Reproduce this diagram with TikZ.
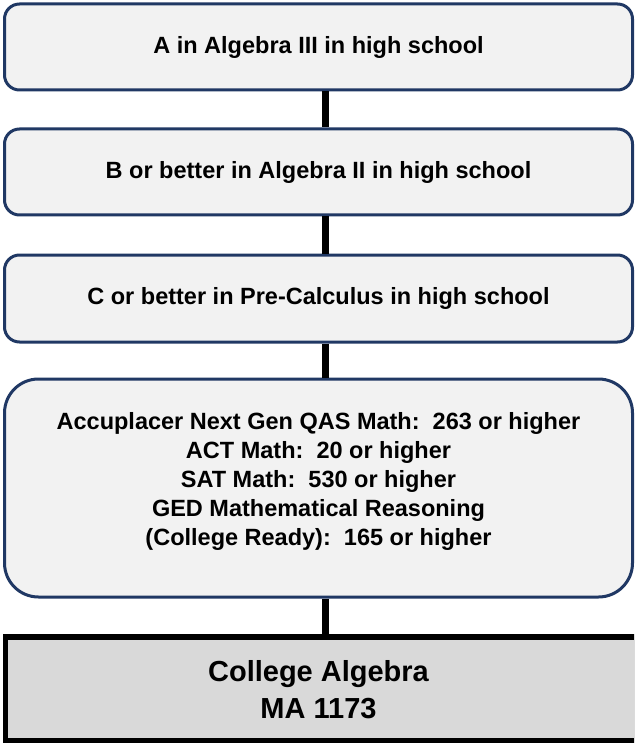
\documentclass[tikz,border=0pt]{standalone}
\usepackage{fontspec}
\setmainfont{Liberation Sans}
\definecolor{navy}{HTML}{203864}
\definecolor{boxfill}{HTML}{F2F2F2}
\definecolor{grayfill}{HTML}{D9D9D9}
\begin{document}
\begin{tikzpicture}[x=1pt,y=-1pt,
  rbox/.style={draw=navy, fill=boxfill, line width=3pt, rounded corners=15pt,
    minimum width=628pt, align=center, inner sep=0pt},
  btext/.style={align=center, inner sep=0pt,
    font=\fontsize{23.5}{29}\selectfont\bfseries},
  conn/.style={draw=black, line width=7pt}]
\useasboundingbox (0,0) rectangle (634,743);
\clip (0,0) rectangle (634,743);
\coordinate (cx) at (325.5,0);
\node[rbox, minimum height=86pt] (b1) at (318.5,47) {};
\node[btext] (t1) at (b1) {A in Algebra III in high school};
\node[rbox, minimum height=86pt] (b2) at (318.5,172) {};
\node[btext] (t2) at (b2) {B or better in Algebra II in high school};
\node[rbox, minimum height=87pt] (b3) at (318.5,298.5) {};
\node[btext] (t3) at (b3) {C or better in Pre-Calculus in high school};
\node[rbox, rounded corners=34pt, minimum height=218pt] (b4) at (318.5,488) {};
\node[btext] (t4) at (318.5,481)
  {Accuplacer Next Gen QAS Math:\ \ 263 or higher\\
   ACT Math:\ \ 20 or higher\\
   SAT Math:\ \ 530 or higher\\
   GED Mathematical Reasoning\\
   (College Ready):\ \ 165 or higher};
\node[draw=black, fill=grayfill, line width=5.5pt, minimum width=631.5pt, minimum height=104pt,
  inner sep=0pt] (b5) at (321.25,688.75) {};
\node[align=center, inner sep=0pt, font=\fontsize{29}{37}\selectfont\bfseries]
  (t5) at (318.5,690) {College Algebra\\MA 1173};
\draw[conn] (b1.south -| cx) -- (b2.north -| cx);
\draw[conn] (b2.south -| cx) -- (b3.north -| cx);
\draw[conn] (b3.south -| cx) -- (b4.north -| cx);
\draw[conn] (b4.south -| cx) -- (b5.north -| cx);
\end{tikzpicture}
\end{document}
